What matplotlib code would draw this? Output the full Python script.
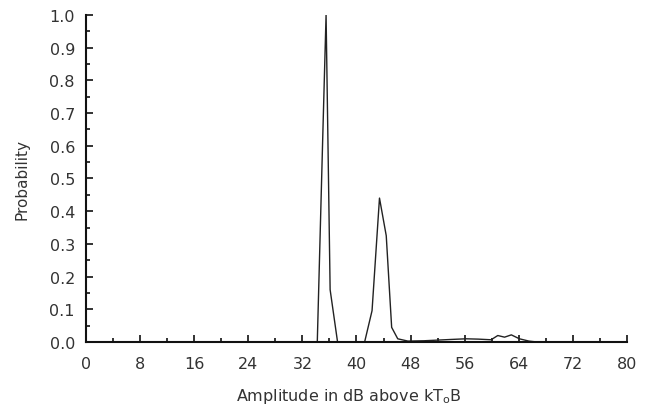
import matplotlib
matplotlib.use("Agg")
import matplotlib.pyplot as plt
from matplotlib.ticker import MultipleLocator

# amplitude (dB above kToB) and probability
amplitude = [0, 34.0, 34.2, 35.0, 35.5, 36.1, 37.2, 41.0, 41.2, 42.3, 43.4, 44.4,
             45.2, 46.1, 47.6, 50, 52, 54, 56.2, 58, 59.9, 60.9, 61.9, 62.9,
             64.1, 65.5, 66.8, 80]
probability = [0, 0, 0.0, 0.62, 1.0, 0.16, 0.0, 0.0, 0.0, 0.096, 0.44, 0.325,
               0.045, 0.01, 0.003, 0.004, 0.006, 0.008, 0.01, 0.009, 0.007, 0.02,
               0.015, 0.022, 0.01, 0.003, 0.0, 0.0]

plt.rcParams['font.family'] = ['DejaVu Sans']

fig = plt.figure(figsize=(6.47, 4.06), dpi=100)
ax = fig.add_axes([0.133, 0.155, 0.836, 0.806])
ax.plot(amplitude, probability, color='#222222', linewidth=1.0)

ax.set_xlim(0, 80)
ax.set_ylim(0, 1.0)
ax.xaxis.set_major_locator(MultipleLocator(8))
ax.xaxis.set_minor_locator(MultipleLocator(4))
ax.yaxis.set_major_locator(MultipleLocator(0.1))
ax.yaxis.set_minor_locator(MultipleLocator(0.05))
ax.yaxis.set_major_formatter(plt.FormatStrFormatter('%.1f'))

for s in ['top', 'right']:
    ax.spines[s].set_visible(False)
for s in ['left', 'bottom']:
    ax.spines[s].set_linewidth(1.5)
    ax.spines[s].set_color('#111111')

ax.tick_params(which='both', direction='in', width=1.2, color='#111111')
ax.tick_params(which='major', length=5, labelsize=11.5, labelcolor='#333333')
ax.tick_params(axis='x', which='major', pad=10)
ax.tick_params(axis='y', which='major', pad=8)
ax.tick_params(which='minor', length=3)

ax.set_xlabel('Amplitude in dB above kT$_\\mathregular{o}$B', fontsize=11.5, color='#333333')
ax.set_ylabel('Probability', fontsize=11, color='#333333')
ax.xaxis.set_label_coords(0.485, -0.135)
ax.yaxis.set_label_coords(-0.105, 0.5)

fig.savefig('out.png', dpi=100)
